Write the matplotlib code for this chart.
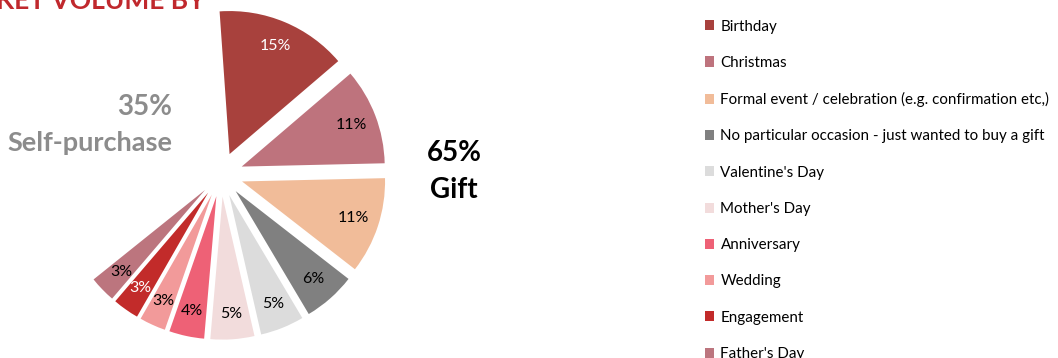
import matplotlib
matplotlib.use("Agg")
import matplotlib.pyplot as plt

# gift occasions (share of market volume, %)
occasions = [
    "Birthday", "Christmas", "Formal event / celebration (e.g. confirmation etc,)",
    "No particular occasion - just wanted to buy a gift", "Valentine's Day",
    "Mother's Day", "Anniversary", "Wedding", "Engagement", "Father's Day",
]
shares = [15, 11, 11, 6, 5, 5, 4, 3, 3, 3]
self_purchase = 35
gift_total = 65
colors = ["#A8413D", "#BE737D", "#F1BC99", "#808080", "#DCDCDC",
          "#F2DCDC", "#EE6176", "#F29A9A", "#C22B2A", "#BC757E"]
label_colors = ["white", "black", "black", "black", "black",
                "black", "black", "black", "white", "black"]

plt.rcParams["font.family"] = ["Lato", "DejaVu Sans"]

W, H = 1058, 358
fig = plt.figure(figsize=(W / 100, H / 100), dpi=100)
ax = fig.add_axes([0, 0, 1, 1])

vals = shares + [self_purchase]
total = sum(vals)
wedges, texts, autotexts = ax.pie(
    vals,
    colors=colors + ["none"],
    explode=[0.155] * len(shares) + [0],
    startangle=94,
    counterclock=False,
    radius=1,
    pctdistance=0.82,
    autopct=lambda p: f"{round(p * total / 100)}%",
    textprops=dict(fontsize=11.5),
    wedgeprops=dict(linewidth=0),
)
wedges[-1].set_visible(False)
autotexts[-1].set_visible(False)
for t, c in zip(autotexts, label_colors):
    t.set_color(c)

# map 1 data unit = 143 px, pie centre at (221, 174.5) px from top-left
s = 143.0
cx, cy = 221, H - 174.5
ax.set_xlim(-cx / s, (W - cx) / s)
ax.set_ylim(-cy / s, (H - cy) / s)
ax.set_aspect("equal")
ax.axis("off")

fig.text(172 / W, 1 - 107 / H, f"{self_purchase}%", ha="right", va="center",
         fontsize=20, fontweight="bold", color="#8C8C8C")
fig.text(172 / W, 1 - 143 / H, "Self-purchase", ha="right", va="center",
         fontsize=19.5, fontweight="bold", color="#8C8C8C")
fig.text(454 / W, 1 - 153 / H, f"{gift_total}%", ha="center", va="center",
         fontsize=20, fontweight="bold", color="black")
fig.text(454 / W, 1 - 190 / H, "Gift", ha="center", va="center",
         fontsize=20, fontweight="bold", color="black")
fig.text(205 / W, 1 - 9 / H, "MARKET VOLUME BY", ha="right", va="baseline",
         fontsize=19, fontweight="bold", color="#C0282D")

fig.legend(wedges[:len(shares)], occasions, loc="upper left",
           bbox_to_anchor=(697 / W, 1 - 12 / H), frameon=False,
           fontsize=10.9, handlelength=0.65, handleheight=0.65,
           handletextpad=0.4, labelspacing=1.47, borderpad=0)

fig.savefig("out.png", dpi=100)
